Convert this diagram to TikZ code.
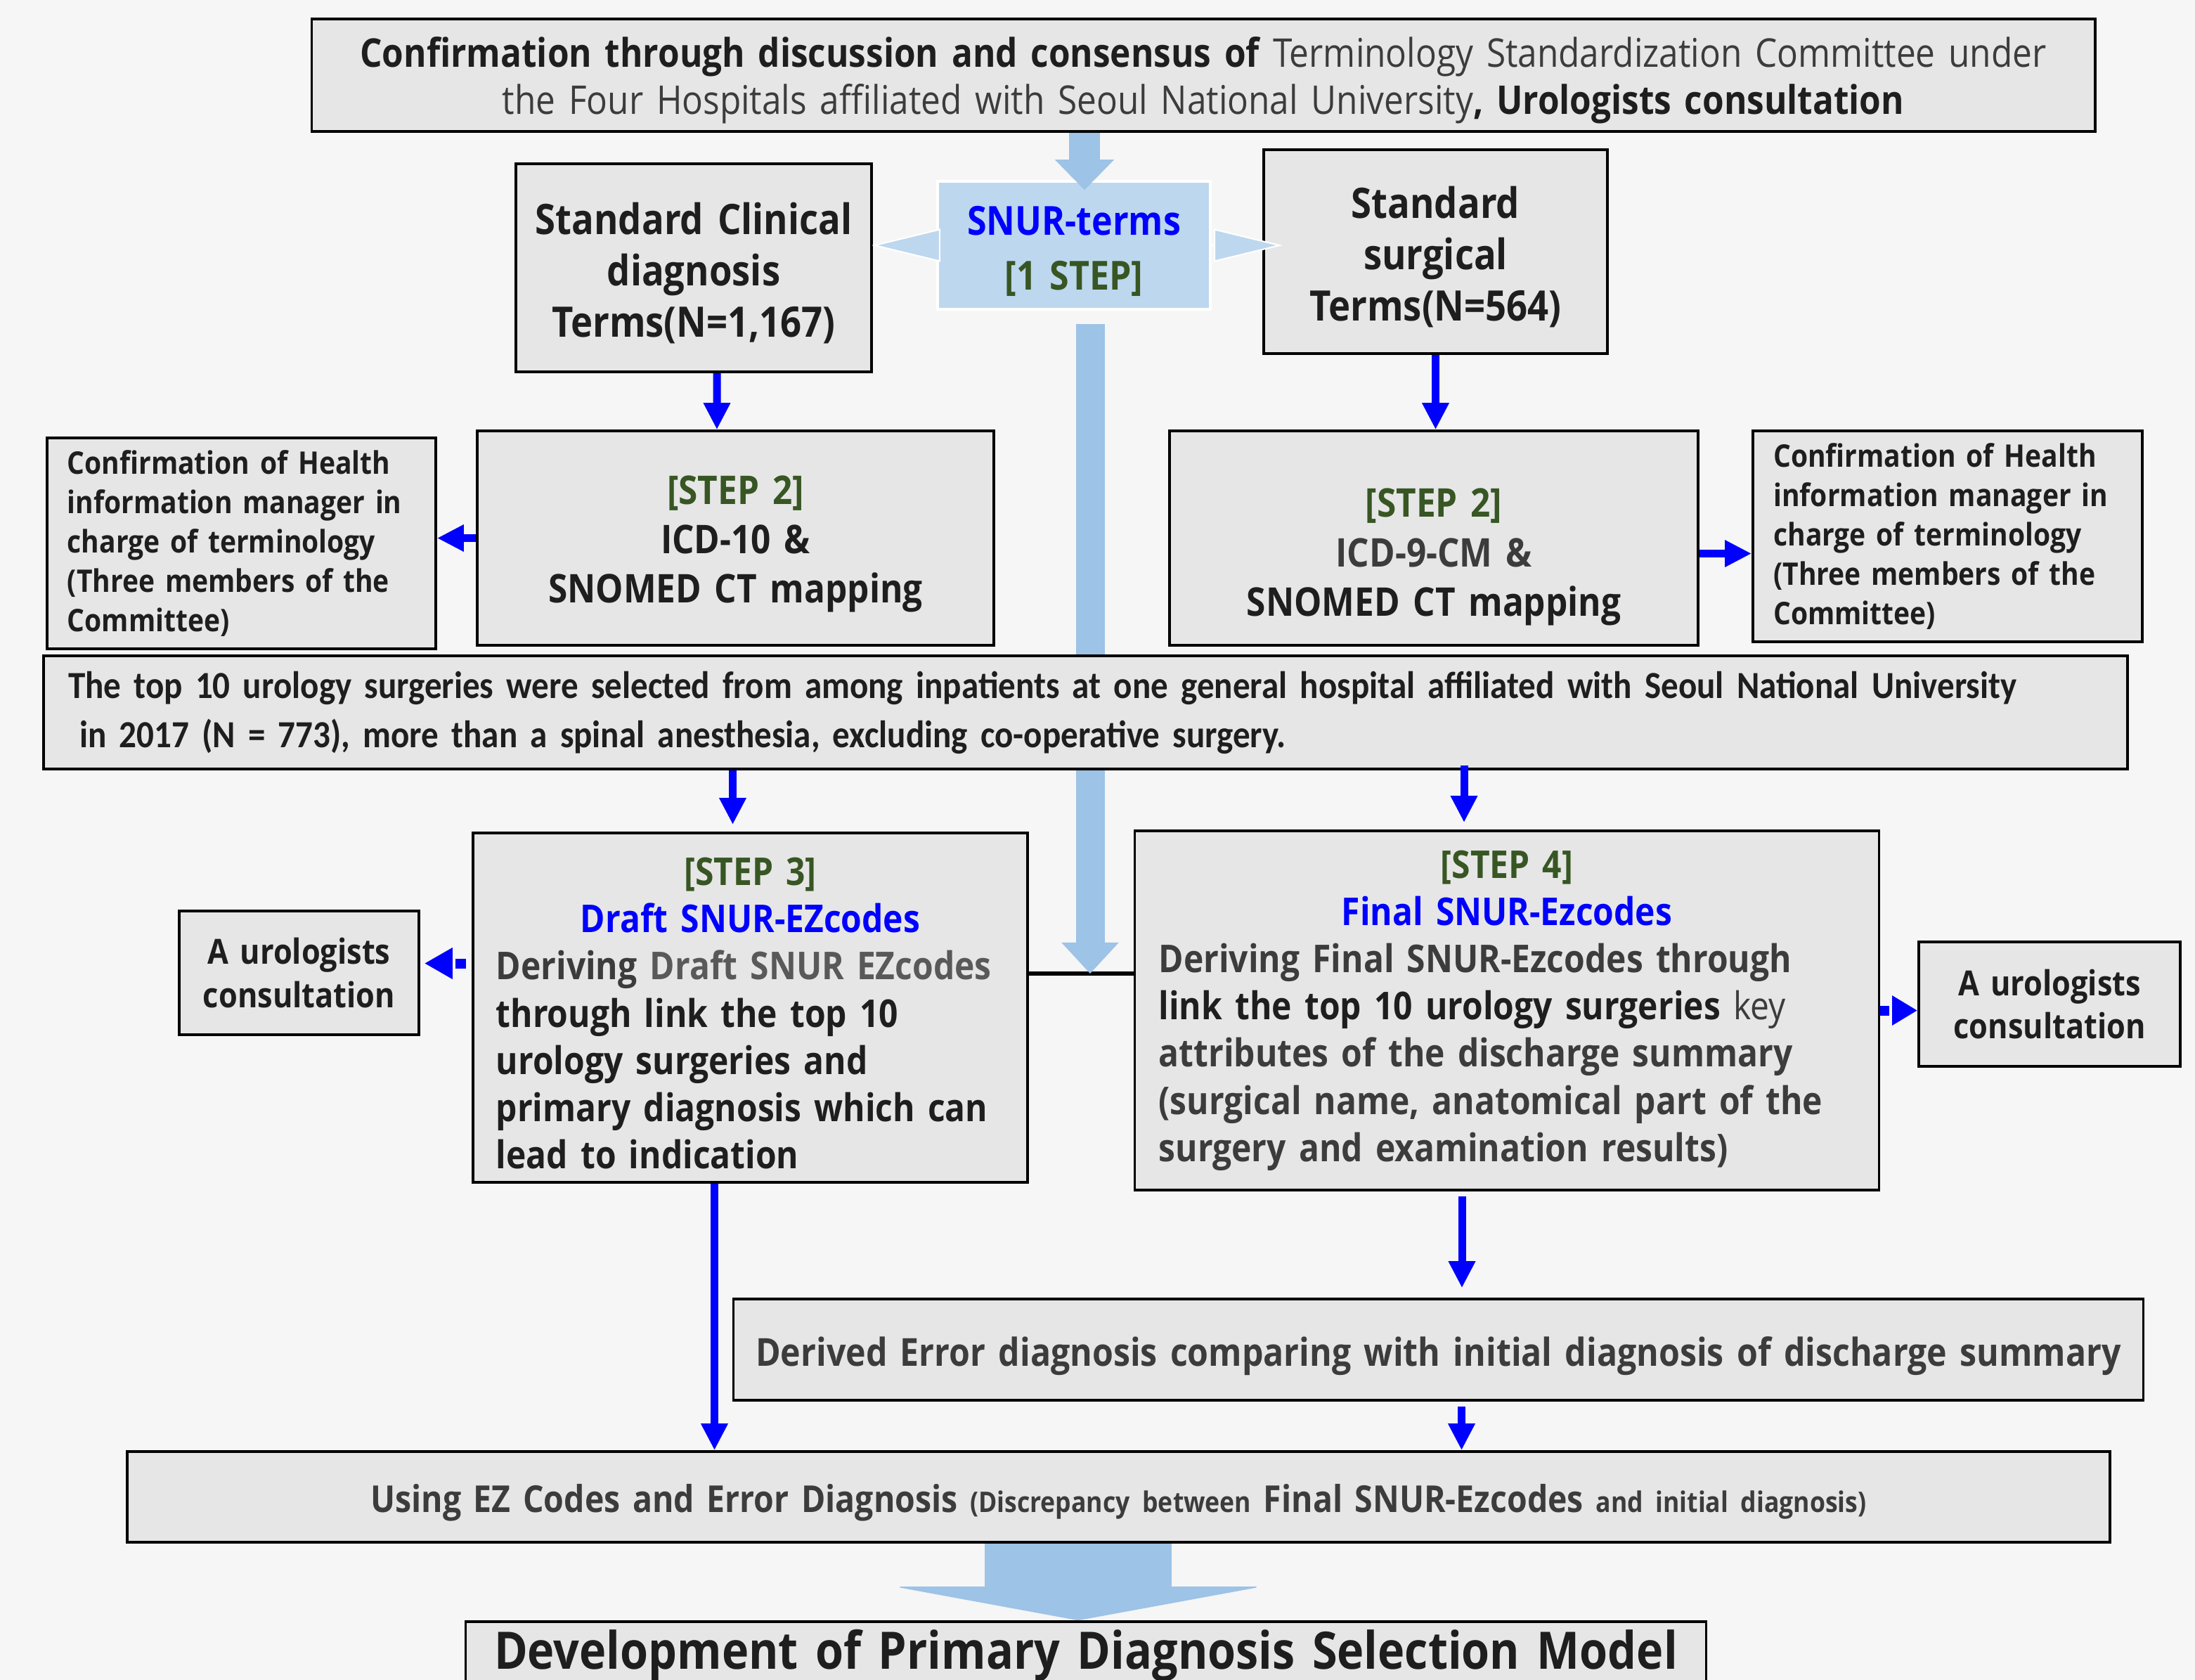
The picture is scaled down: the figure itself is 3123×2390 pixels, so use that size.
\documentclass[tikz,border=0pt]{standalone}
\usepackage{fontspec}
\setmainfont{Open Sans}[FakeStretch=0.88]
\newfontfamily\calibrifont{Carlito}[FakeStretch=0.9]
\usepackage{xcolor}
\usetikzlibrary{arrows.meta, positioning, calc}

\definecolor{bggray}{HTML}{F6F6F6}
\definecolor{boxgray}{HTML}{E6E6E6}
\definecolor{skyblue}{HTML}{9DC3E6}
\definecolor{snurfill}{HTML}{BDD7EE}
\definecolor{stepgreen}{HTML}{375623}
\definecolor{inkblack}{HTML}{1E1E1E}
\definecolor{inkgray}{HTML}{3C3C3C}
\definecolor{lightink}{HTML}{595959}

\newcommand{\sizept}[2]{\fontsize{#1}{#2}\selectfont}
\newcommand{\stepname}[1]{{\color{stepgreen}#1}}
\newcommand{\codename}[1]{{\color{blue}#1}}
\newcommand{\lift}{\rule{0pt}{1.02em}}

\begin{document}
\begin{tikzpicture}[x=0.01cm, y=-0.01cm,
    graybox/.style={draw=black, line width=1pt, fill=boxgray, inner sep=0pt, align=center, text=inkblack},
    notebox/.style={graybox, align=left},
    stepbox/.style={draw=black, line width=1pt, fill=boxgray, inner sep=0pt, text=inkblack},
    snurbox/.style={draw=white, line width=1pt, fill=snurfill, inner sep=0pt, align=center},
    bluearrow/.style={draw=blue, line width=0.11cm, -{Triangle[length=0.38cm, width=0.36cm]}},
    dasharrow/.style={draw=blue, line width=0.14cm, -{Triangle[length=0.4cm, width=0.42cm]}},
    skyarrow/.style={draw=skyblue},
    sidetip/.style={draw=white, line width=0.6pt, -{Triangle[length=0.98cm, width=0.47cm, fill=snurfill]}},
    joinline/.style={draw=black, line width=1.8pt}]

    % Page
    \fill[bggray] (0,0) rectangle (3123,2390);
    \clip (0,0) rectangle (3123,2390);

    % Nodes
    \node[graybox, minimum width=25.36cm, minimum height=1.6cm, text width=25cm, font=\bfseries\sizept{16}{19.3}] (consensus) at (1712,107)
        {\lift Confirmation through discussion and consensus of {\mdseries\color{inkgray}Terminology Standardization Committee under}\\{\mdseries\color{inkgray}the Four Hospitals affiliated with Seoul National University}, Urologists consultation};
    \node[snurbox, minimum width=3.88cm, minimum height=1.82cm, text width=3.6cm, font=\bfseries\sizept{16.2}{22}] (snur) at (1528,349)
        {\lift\codename{SNUR-terms}\\\stepname{[1 STEP]}};
    \node[graybox, minimum width=5.06cm, minimum height=2.96cm, text width=4.9cm, font=\bfseries\sizept{17}{20.8}] (clin) at (987,381)
        {\lift Standard Clinical\\diagnosis\\Terms(N=1,167)};
    \node[graybox, minimum width=4.89cm, minimum height=2.90cm, text width=4.7cm, font=\bfseries\sizept{17}{20.8}] (surg) at (2042.5,358)
        {\lift Standard\\surgical\\Terms(N=564)};

    \draw[skyarrow, line width=0.44cm, -{Triangle[length=0.43cm, width=0.84cm, line width=0.4pt]}] ($(consensus.south -| snur.north)+(15,0)$) -- ($(snur.north)+(15,14)$);
    \draw[sidetip] (snur.west) -- ($(clin.east |- snur.west)+(-2,0)$);
    \draw[sidetip] (snur.east) -- ($(surg.west |- snur.east)+(29,0)$);

    \node[graybox, minimum width=7.35cm, minimum height=3.05cm, text width=7cm, font=\bfseries\sizept{16}{20}] (step2l) at (1046.5,765.5)
        {\lift\stepname{[STEP 2]}\\ICD-10 \&\\SNOMED CT mapping};
    \node[graybox, minimum width=7.52cm, minimum height=3.05cm, text width=7.2cm, font=\bfseries\sizept{16}{20}] (step2r) at (2040,765.5)
        {\rule{0pt}{0.95cm}\stepname{[STEP 2]}\\{\color{inkgray}ICD-9-CM \&}\\SNOMED CT mapping};
    \node[notebox, minimum width=5.53cm, minimum height=3.0cm, text width=4.95cm, font=\bfseries\sizept{12.6}{15.9}] (confl) at (343.5,773)
        {Confirmation of Health\\information manager in\\charge of terminology\\(Three members of the\\Committee)};
    \node[notebox, minimum width=5.54cm, minimum height=3.0cm, text width=4.95cm, font=\bfseries\sizept{12.6}{15.9}] (confr) at (2771,763)
        {Confirmation of Health\\information manager in\\charge of terminology\\(Three members of the\\Committee)};

    \draw[bluearrow] ([xshift=0.33cm]clin.south) -- ([xshift=-0.265cm]step2l.north);
    \draw[bluearrow] (surg.south) -- (surg.south |- step2r.north);
    \draw[bluearrow] (step2l.west) -- (confl.east |- step2l.west);
    \draw[bluearrow] ($(step2r.east)+(0,22)$) -- ($(confr.west |- step2r.east)+(0,22)$);

    \node[stepbox, minimum width=7.89cm, minimum height=4.97cm, text width=7.23cm, font=\bfseries\sizept{15.5}{19.1}] (step3) at (1067.5,1433.5)
        {{\centering \lift\stepname{[STEP 3]}\\\codename{Draft SNUR-EZcodes}\par}%
         {\raggedright {\color{inkgray}Deriving} {\color{lightink}Draft SNUR EZcodes}\\through link the top 10\\urology surgeries and\\primary diagnosis which can\\lead to indication\par}};
    \node[stepbox, minimum width=10.58cm, minimum height=5.11cm, text width=9.9cm, font=\bfseries\sizept{15.5}{19.1}] (step4) at (2144,1437.5)
        {{\centering \stepname{[STEP 4]}\\\codename{Final SNUR-Ezcodes}\par}%
         {\raggedright\color{inkgray} Deriving Final SNUR-Ezcodes through\\{\color{inkblack}link the top 10 urology surgeries} {\mdseries key}\\attributes of the discharge summary\\(surgical name, anatomical part of the\\surgery and examination results)\par}};
    \node[graybox, minimum width=3.41cm, minimum height=1.76cm, text width=3.2cm, font=\bfseries\sizept{14}{17.6}] (urol) at (425.5,1384)
        {A urologists\\consultation};
    \node[graybox, minimum width=3.72cm, minimum height=1.77cm, text width=3.5cm, font=\bfseries\sizept{14}{17.6}] (uror) at (2916,1428.5)
        {A urologists\\consultation};

    \coordinate (join) at (1551,1385);
    \draw[joinline] (join -| step3.east) -- (join -| step4.west);
    \draw[skyarrow, line width=0.41cm, -{Triangle[length=0.44cm, width=0.81cm, line width=0.4pt]}] ($(snur.south)+(23,19)$) -- (join);

    \node[notebox, minimum width=29.63cm, minimum height=1.61cm, text width=28.93cm, font=\calibrifont\bfseries\sizept{15.5}{19.9}] (top10) at (1544.5,1013.5)
        {The top 10 urology surgeries were selected from among inpatients at one general hospital affiliated with Seoul National University\\\hspace*{0.16cm}in 2017 (N = 773), more than a spinal anesthesia, excluding co-operative surgery.};

    \draw[bluearrow] ($(top10.south -| step3.north)+(-25,0)$) -- ($(step3.north)+(-25,-10)$);
    \draw[bluearrow] ($(top10.south -| step4.north)+(-61,-7)$) -- ($(step4.north)+(-61,-10)$);
    \draw[dasharrow, dash pattern=on 0pt off 0.08cm on 0.15cm off 0.1cm] ($(step3.west)+(0,-63)$) -- ($(urol.east |- step3.west)+(6,-63)$);
    \draw[dasharrow, dash pattern=on 0.13cm off 0.2cm, -{Triangle[length=0.36cm, width=0.4cm]}] (step4.east) -- (uror.west |- step4.east);

    \node[graybox, minimum width=20.05cm, minimum height=1.44cm, text width=19.8cm, font=\bfseries\sizept{15.6}{18}, text=inkgray] (derived) at (2046.5,1920)
        {\rule{0pt}{1.08em}Derived Error diagnosis comparing with initial diagnosis of discharge summary};
    \node[graybox, minimum width=28.19cm, minimum height=1.29cm, text width=27.8cm, font=\bfseries\sizept{15}{18}, text=inkgray] (using) at (1591.5,2129.5)
        {\rule{0pt}{1.06em}Using EZ Codes and Error Diagnosis {\sizept{11.5}{14}(Discrepancy between} Final SNUR-Ezcodes {\sizept{11.5}{14}and initial diagnosis)}};
    \node[graybox, minimum width=17.64cm, minimum height=0.96cm, text width=17.4cm, font=\bfseries\sizept{20.9}{24}] (final) at (1545,2355)
        {Development of Primary Diagnosis Selection Model};

    \draw[bluearrow] ($(step3.south)+(-51,0)$) -- ($(using.north -| step3.south)+(-51,0)$);
    \draw[bluearrow] ($(step4.south)+(-64,7)$) -- ($(derived.north -| step4.south)+(-64,-14)$);
    \draw[bluearrow] ($(derived.south)+(33,7)$) -- ($(using.north -| derived.south)+(33,0)$);
    \draw[skyarrow, line width=2.65cm, -{Triangle[length=0.48cm, width=5.22cm, line width=0.4pt]}] ($(final.north |- using.south)+(-11,0)$) -- ($(final.north)+(-11,0)$);
\end{tikzpicture}
\end{document}
